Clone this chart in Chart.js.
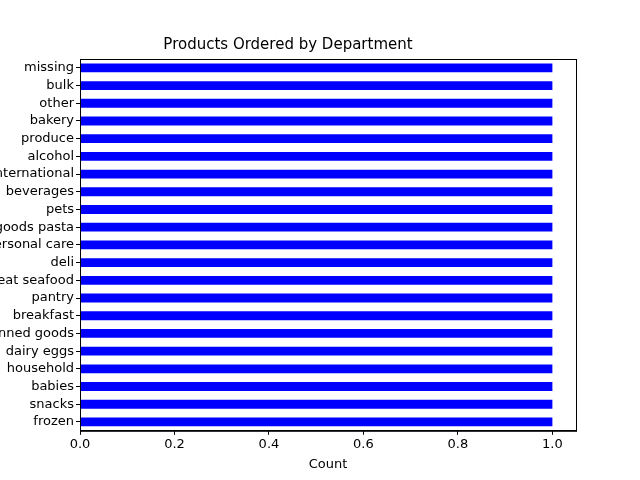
<!DOCTYPE html>
<html>
<head>
<script src="https://cdn.jsdelivr.net/npm/chart.js@4"></script>
<style>
  body { margin: 0; background: #fff; }
  #wrap { width: 640px; height: 480px; }
</style>
</head>
<body>
<div id="wrap"><canvas id="chart-canvas"></canvas></div>
<script>
const departments = ['missing', 'bulk', 'other', 'bakery', 'produce', 'alcohol', 'international',
  'beverages', 'pets', 'dry goods pasta', 'personal care', 'deli', 'meat seafood', 'pantry',
  'breakfast', 'canned goods', 'dairy eggs', 'household', 'babies', 'snacks', 'frozen'];
const counts = [1, 1, 1, 1, 1, 1, 1, 1, 1, 1, 1, 1, 1, 1, 1, 1, 1, 1, 1, 1, 1];
const xTicks = [0, 0.2, 0.4, 0.6, 0.8, 1.0];

const font = { family: 'DejaVu Sans', size: 13 };
Chart.defaults.color = '#000';

new Chart(document.getElementById('chart-canvas').getContext('2d'), {
  type: 'bar',
  data: {
    labels: departments,
    datasets: [{
      label: 'Count',
      data: counts,
      backgroundColor: '#0000ff',
      barPercentage: 0.5,
      categoryPercentage: 1.0
    }]
  },
  options: {
    indexAxis: 'y',
    responsive: true,
    maintainAspectRatio: false,
    animation: false,
    layout: { padding: { top: 36, right: 64, bottom: 4, left: 0 } },
    plugins: {
      legend: { display: false },
      tooltip: { enabled: false },
      title: {
        display: true,
        text: 'Products Ordered by Department',
        font: { family: 'DejaVu Sans', size: 15, weight: 'normal' },
        padding: { top: 0, bottom: 5 }
      }
    },
    scales: {
      x: {
        min: 0,
        max: 1.05,
        afterBuildTicks: axis => { axis.ticks = xTicks.map(v => ({ value: v })); },
        ticks: { font, callback: v => Number(v).toFixed(1), maxRotation: 0, padding: 2 },
        grid: { display: true, drawOnChartArea: false, drawTicks: true, tickLength: 4, color: '#000' },
        border: { color: '#000' },
        title: { display: true, text: 'Count', font, padding: { top: 2 } }
      },
      y: {
        afterFit: axis => { axis.width = 80; },
        ticks: { font, padding: 2, autoSkip: false },
        grid: { display: true, offset: false, drawOnChartArea: false, drawTicks: true, tickLength: 4, color: '#000' },
        border: { color: '#000' }
      }
    }
  },
  plugins: [{
    id: 'frame',
    afterDraw(chart) {
      const { ctx, chartArea: a } = chart;
      ctx.save();
      ctx.strokeStyle = '#000';
      ctx.lineWidth = 1;
      ctx.strokeRect(a.left + 0.5, a.top + 0.5, a.right - a.left, a.bottom - a.top);
      ctx.restore();
    }
  }]
});
</script>
</body>
</html>
